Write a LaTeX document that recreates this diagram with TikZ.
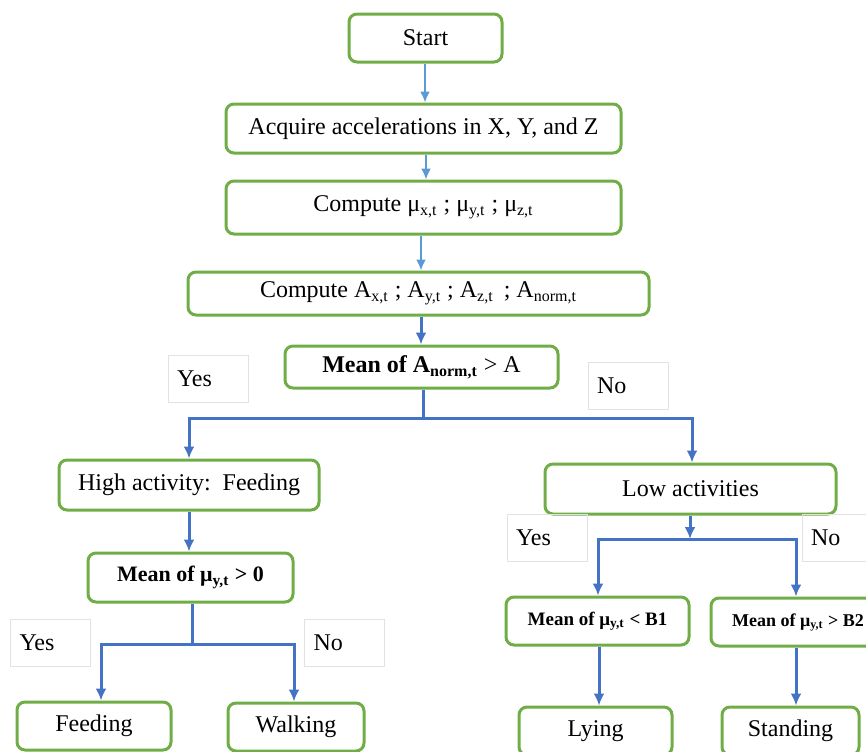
\documentclass[tikz,border=0pt]{standalone}
\usepackage{fontspec}
\setmainfont{Liberation Serif}
\usepackage{tikz}
\usetikzlibrary{positioning,arrows.meta}

\definecolor{boxgreen}{HTML}{70AD47}
\definecolor{arrlight}{HTML}{5B9BD5}
\definecolor{arrdark}{HTML}{4472C4}
\definecolor{lblgray}{HTML}{E2E2E2}

\tikzset{
  stepbox/.style={draw=boxgreen,line width=1.5pt,rounded corners=4pt,inner sep=0pt,
    align=center,font=\fontsize{12}{14}\selectfont},
  lbl/.style={draw=lblgray,line width=0.4pt,inner xsep=4.5pt,inner ysep=0pt,
    text width=31pt,minimum height=23.5pt,align=left,font=\fontsize{12}{14}\selectfont},
  flowlight/.style={draw=arrlight,line width=1pt,-{Latex[length=5.5pt,width=5pt]}},
  flowdark/.style={draw=arrdark,line width=1.5pt,-{Latex[length=6pt,width=5.5pt]}},
  linedark/.style={draw=arrdark,line width=1.5pt},
}

\begin{document}
\begin{tikzpicture}[x=0.5pt,y=-0.5pt]
\clip (0,0) rectangle (866,751);
%%
\node (start) at (425.5,38) [stepbox,minimum width=76.5pt,minimum height=24pt] {Start};
  \node (acquire) at (423.5,128.5) [stepbox,minimum width=197.5pt,minimum height=24.5pt] {Acquire accelerations in X, Y, and Z};
  \node (mu) at (423.5,207.5) [stepbox,minimum width=197.5pt,minimum height=26.5pt] {Compute μ\textsubscript{x,t} ; μ\textsubscript{y,t} ; μ\textsubscript{z,t}};
  \node (A) at (418.5,293.5) [stepbox,minimum width=230.5pt,minimum height=21.5pt] {Compute A\textsubscript{x,t} ; A\textsubscript{y,t} ; A\textsubscript{z,t}\, ; A\textsubscript{norm,t}};
  \node (meanA) at (421.5,367) [stepbox,minimum width=136.5pt,minimum height=21pt] {{\bfseries Mean of A\textsubscript{norm,t}} > A};
  \node (high) at (189,485) [stepbox,minimum width=130pt,minimum height=25pt] {High activity:\, Feeding};
  \node (low) at (690.5,489) [stepbox,minimum width=145.5pt,minimum height=25pt] {Low activities};
  \node (mu0) at (190.5,577.5) [stepbox,minimum width=102.5pt,minimum height=24.5pt,font=\fontsize{11}{13}\selectfont\bfseries] {Mean of μ\textsubscript{y,t} > 0};
  \node (B1) at (597.5,621) [stepbox,minimum width=91.5pt,minimum height=24pt,font=\fontsize{9.5}{11}\selectfont\bfseries] {Mean of μ\textsubscript{y,t} < B1};
  \node (B2) at (798,622) [stepbox,minimum width=87pt,minimum height=24pt,font=\fontsize{9}{11}\selectfont\bfseries] {Mean of μ\textsubscript{y,t} > B2};
  \node (feeding) at (94,726) [stepbox,minimum width=77pt,minimum height=24pt] {Feeding};
  \node (walking) at (296,727) [stepbox,minimum width=68pt,minimum height=24pt] {Walking};
  \node (lying) at (595.5,731) [stepbox,minimum width=76.5pt,minimum height=24pt] {Lying};
  \node (standing) at (790.5,731) [stepbox,minimum width=68.5pt,minimum height=24pt] {Standing};
%
\node (yesA) at (208,378.5) [lbl] {Yes};
  \node (noA) at (628,385.5) [lbl] {No};
  \node (yesM) at (50.5,642.5) [lbl] {Yes};
  \node (noM) at (344.5,642.5) [lbl] {No};
  \node (yesL) at (547,537.5) [lbl] {Yes};
  \node (noL) at (842,537.5) [lbl] {No};
%
\coordinate (splitA) at (423,418);
  \coordinate (splitM) at (192,644);
  \coordinate (splitL) at (690,539);
%
\draw [flowlight] (start.south -| 425,0) -- (acquire.north -| 425,0);
  \draw [flowlight] (acquire.south -| 426,0) -- (mu.north -| 426,0);
  \draw [flowlight] (mu.south -| 421,0) -- (A.north -| 421,0);
  \draw [flowdark] (A.south -| 421,0) -- (meanA.north -| 421,0);
  \draw [linedark] (meanA.south -| splitA) -- (splitA);
  \draw [flowdark] (splitA) -| (high);
  \draw [flowdark] (splitA) -| ([xshift=0.75pt]low.north);
  \draw [flowdark] (high) -- (mu0.north -| high);
  \draw [linedark] (mu0.south -| splitM) -- (splitM);
  \draw [flowdark] (splitM) -| ([xshift=3.5pt]feeding.north);
  \draw [flowdark] (splitM) -| ([xshift=-1pt]walking.north);
  \draw [flowdark] (low.south -| splitL) -- (splitL);
  \draw [flowdark] (splitL) -| (B1.north -| 598,0);
  \draw [flowdark] (splitL) -| (B2.north -| 796,0);
  \draw [flowdark] (B1.south -| 599,0) -- (lying.north -| 599,0);
  \draw [flowdark] (B2.south -| 796,0) -- (standing.north -| 796,0);
%
\end{tikzpicture}
\end{document}
